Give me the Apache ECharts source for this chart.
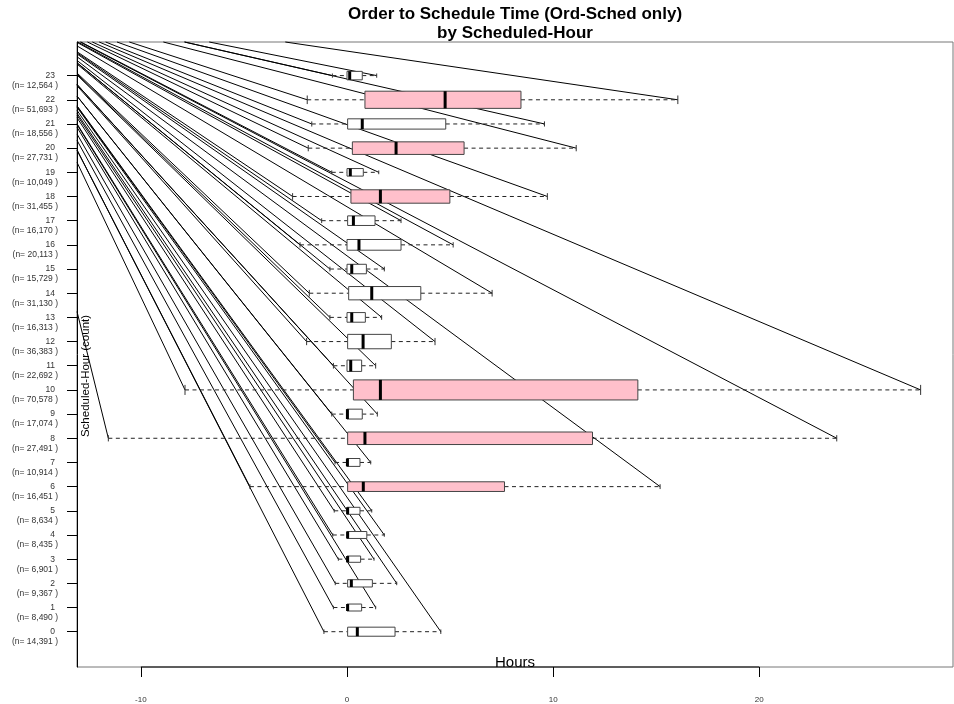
<!DOCTYPE html>
<html>
<head>
<meta charset="utf-8">
<script src="https://cdn.jsdelivr.net/npm/echarts@6/dist/echarts.min.js"></script>
<style>
  html, body { margin: 0; padding: 0; background: #ffffff; }
  #chart { width: 954px; height: 704px; }
</style>
</head>
<body>
<div id="chart"></div>
<script>
// Order-to-schedule time (hours) per scheduled hour: five-number summaries
const hours = [0, 1, 2, 3, 4, 5, 6, 7, 8, 9, 10, 11, 12, 13, 14, 15, 16, 17, 18, 19, 20, 21, 22, 23];
const counts = [14391, 8490, 9367, 6901, 8435, 8634, 16451, 10914, 27491, 17074, 70578, 22692,
                36383, 16313, 31130, 15729, 20113, 16170, 31455, 10049, 27731, 18556, 51693, 12564];
const whiskerLow  = [-1.12, -0.66, -0.57, -0.42, -0.69, -0.62, -4.71, -0.58, -11.58, -0.74, -7.86, -0.66,
                     -1.96, -0.83, -1.83, -0.83, -2.28, -1.23, -2.64, -0.74, -1.88, -1.71, -1.93, -0.71];
const quart1      = [0.03, 0.00, 0.03, 0.00, 0.00, 0.00, 0.03, 0.00, 0.03, 0.00, 0.31, 0.00,
                     0.03, 0.00, 0.08, 0.00, 0.00, 0.03, 0.19, 0.00, 0.26, 0.03, 0.87, 0.00];
const medians     = [0.50, 0.03, 0.21, 0.03, 0.03, 0.03, 0.79, 0.02, 0.87, 0.02, 1.62, 0.18,
                     0.78, 0.23, 1.20, 0.23, 0.58, 0.31, 1.62, 0.16, 2.38, 0.74, 4.76, 0.13];
const quart3      = [2.33, 0.71, 1.23, 0.66, 0.96, 0.63, 7.64, 0.63, 11.91, 0.74, 14.11, 0.71,
                     2.15, 0.89, 3.58, 0.94, 2.62, 1.36, 4.99, 0.79, 5.68, 4.79, 8.44, 0.74];
const whiskerHigh = [4.55, 1.39, 2.41, 1.31, 1.81, 1.20, 15.19, 1.15, 23.76, 1.47, 27.83, 1.39,
                     4.27, 1.68, 7.04, 1.81, 5.15, 2.62, 9.72, 1.54, 11.12, 9.58, 16.05, 1.44];
const highlightHours = [6, 8, 10, 18, 20, 22];
const xTicks = [-10, 0, 10, 20];
const xRange = [-13.1, 29.4];
const yRange = [-1.46, 24.39];

const FONT = '"Liberation Sans", Arial, Helvetica, sans-serif';
const maxCount = Math.max(...counts);

// one row per hour: [hour, low, q1, median, q3, high, n]
const rows = hours.map((h, i) => [h, whiskerLow[i], quart1[i], medians[i], quart3[i], whiskerHigh[i], counts[i]]);

// whisker segments anchored at the canvas origin, clipped to the plot rectangle
function renderRays(params, api) {
  const h = api.value(0);
  const cs = params.coordSys;
  const children = [1, 5].map(function (dim) {
    const end = api.coord([api.value(dim), h]);
    const t = Math.max(cs.x / end[0], cs.y / end[1]);
    return {
      type: 'line',
      shape: { x1: end[0] * t, y1: end[1] * t, x2: end[0], y2: end[1] },
      style: { stroke: '#000000', lineWidth: 1 }
    };
  });
  return { type: 'group', children: children };
}

// box, median bar, dashed whiskers and end staples; box height scales with sqrt(n)
function renderBox(params, api) {
  const h = api.value(0);
  const yMid = api.coord([0, h])[1];
  const px = function (v) { return api.coord([v, h])[0]; };
  const band = api.size([0, 1])[1];
  const bh = band * 0.83 * Math.sqrt(api.value(6) / maxCount);
  const lo = px(api.value(1)), b1 = px(api.value(2)), md = px(api.value(3)),
        b3 = px(api.value(4)), hi = px(api.value(5));
  const fill = highlightHours.indexOf(h) >= 0 ? '#FFC0CB' : '#FFFFFF';
  const dash = { stroke: '#222222', lineWidth: 1, lineDash: [4, 3.5] };
  const staple = { stroke: '#333333', lineWidth: 1 };
  return {
    type: 'group',
    children: [
      { type: 'line', shape: { x1: lo, y1: yMid, x2: b1, y2: yMid }, style: dash },
      { type: 'line', shape: { x1: b3, y1: yMid, x2: hi, y2: yMid }, style: dash },
      { type: 'line', shape: { x1: lo, y1: yMid - bh / 4, x2: lo, y2: yMid + bh / 4 }, style: staple },
      { type: 'line', shape: { x1: hi, y1: yMid - bh / 4, x2: hi, y2: yMid + bh / 4 }, style: staple },
      { type: 'rect', shape: { x: b1, y: yMid - bh / 2, width: b3 - b1, height: bh },
        style: { fill: fill, stroke: '#444444', lineWidth: 1 } },
      { type: 'line', shape: { x1: md, y1: yMid - bh / 2, x2: md, y2: yMid + bh / 2 },
        style: { stroke: '#000000', lineWidth: 3 } }
    ]
  };
}

const chart = echarts.init(document.getElementById('chart'), null, { renderer: 'canvas' });

chart.setOption({
  animation: false,
  backgroundColor: '#ffffff',
  title: {
    text: 'Order to Schedule Time (Ord-Sched only)\nby Scheduled-Hour',
    left: 515,
    top: 5,
    textAlign: 'center',
    padding: 0,
    textStyle: { fontFamily: FONT, fontSize: 17, fontWeight: 'bold', lineHeight: 19, color: '#000000' }
  },
  grid: {
    left: 77, top: 42, right: 1, bottom: 37,
    show: true, borderColor: '#777777', borderWidth: 1,
    containLabel: false, outerBoundsMode: 'none'
  },
  xAxis: {
    type: 'value',
    min: xRange[0], max: xRange[1],
    name: 'Hours',
    nameLocation: 'middle',
    nameGap: -12,
    nameMoveOverlap: false,
    nameTextStyle: { fontFamily: FONT, fontSize: 15, color: '#000000' },
    axisLine: { show: false, onZero: false },
    axisTick: { show: true, length: 10, customValues: xTicks, lineStyle: { color: '#000000' } },
    axisLabel: { customValues: xTicks, margin: 29, fontFamily: FONT, fontSize: 8, color: '#333333' },
    splitLine: { show: false }
  },
  yAxis: {
    type: 'value',
    min: yRange[0], max: yRange[1],
    name: 'Scheduled-Hour (count)',
    nameLocation: 'middle',
    nameGap: -15,
    nameMoveOverlap: false,
    nameTextStyle: { fontFamily: FONT, fontSize: 11.5, color: '#000000', padding: [0, 43, 0, 0] },
    axisLine: { show: true, onZero: false, lineStyle: { color: '#000000' } },
    axisTick: { show: true, length: 10, customValues: hours, lineStyle: { color: '#000000' } },
    axisLabel: {
      customValues: hours,
      margin: 19,
      padding: [10, 0, 0, 0],
      formatter: function (v) {
        const i = hours.indexOf(Math.round(v));
        return '{h|' + hours[i] + '}\n{n|(n= ' + counts[i].toLocaleString('en-US') + ' )}';
      },
      rich: {
        h: { fontFamily: FONT, fontSize: 8.5, lineHeight: 10, color: '#333333', padding: [0, 3, 0, 0] },
        n: { fontFamily: FONT, fontSize: 8.5, lineHeight: 10, color: '#333333' }
      }
    },
    splitLine: { show: false }
  },
  series: [
    {
      type: 'custom',
      name: 'rays',
      renderItem: renderRays,
      data: rows,
      encode: { x: [1, 5], y: 0 },
      silent: true,
      z: 1
    },
    {
      type: 'custom',
      name: 'boxes',
      renderItem: renderBox,
      data: rows,
      encode: { x: [1, 2, 3, 4, 5], y: 0 },
      silent: true,
      z: 2
    },
    {
      // bottom axis line spanning the first to the last tick
      type: 'line',
      data: [[xTicks[0], yRange[0]], [xTicks[xTicks.length - 1], yRange[0]]],
      symbol: 'none',
      clip: false,
      silent: true,
      lineStyle: { color: '#000000', width: 1 },
      z: 3
    }
  ]
});
</script>
</body>
</html>
